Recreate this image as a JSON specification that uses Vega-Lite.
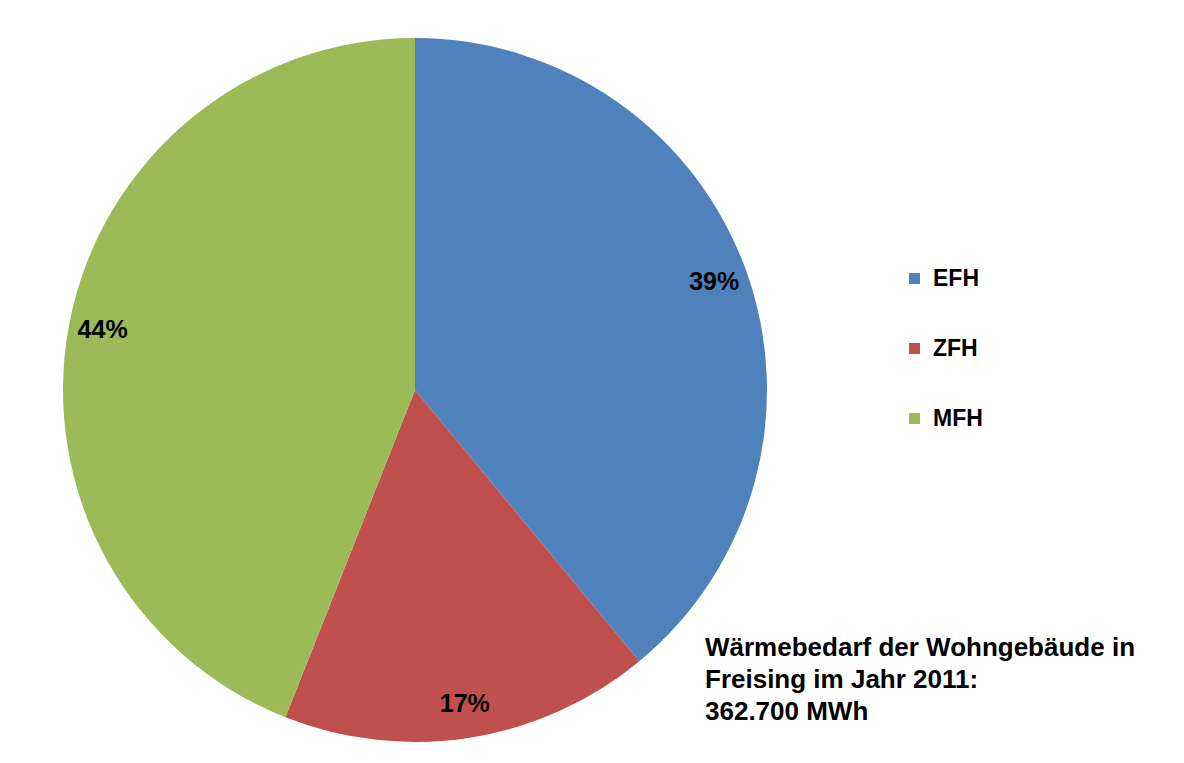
{
  "$schema": "https://vega.github.io/schema/vega-lite/v6.json",
  "autosize": "none",
  "width": 830,
  "height": 746,
  "padding": {"left": 0, "top": 17, "right": 354, "bottom": 0},
  "background": "white",
  "title": {
    "text": ["Wärmebedarf der Wohngebäude in", "Freising im Jahr 2011:", "362.700 MWh"],
    "orient": "top",
    "anchor": "start",
    "frame": "group",
    "offset": 0,
    "dx": 705,
    "dy": 708,
    "baseline": "top",
    "lineHeight": 32,
    "font": "Liberation Sans",
    "fontSize": 26,
    "fontWeight": "bold",
    "color": "#000000"
  },
  "data": {
    "values": [
      {"typ": "EFH", "anteil": 39, "label": "39%", "idx": 1},
      {"typ": "ZFH", "anteil": 17, "label": "17%", "idx": 2},
      {"typ": "MFH", "anteil": 44, "label": "44%", "idx": 3}
    ]
  },
  "encoding": {
    "theta": {"field": "anteil", "type": "quantitative", "stack": true},
    "order": {"field": "idx", "type": "quantitative"},
    "color": {
      "field": "typ",
      "type": "nominal",
      "scale": {"domain": ["EFH", "ZFH", "MFH"], "range": ["#4F81BD", "#C0504D", "#9BBB59"]},
      "legend": {
        "title": null,
        "orient": "none",
        "legendX": 903,
        "legendY": 250,
        "direction": "vertical",
        "symbolType": "square",
        "symbolSize": 121,
        "symbolStrokeWidth": 0,
        "labelFont": "Liberation Sans",
        "labelFontSize": 23,
        "labelFontWeight": "bold",
        "labelColor": "#000000",
        "labelOffset": 7,
        "rowPadding": 46,
        "padding": 0
      }
    }
  },
  "layer": [
    {"mark": {"type": "arc", "outerRadius": 352}},
    {
      "mark": {"type": "text", "radius": 318, "font": "Liberation Sans", "fontSize": 25, "fontWeight": "bold", "fill": "#000000"},
      "encoding": {"text": {"field": "label", "type": "nominal"}, "color": {"value": "#000000"}}
    }
  ],
  "config": {"view": {"stroke": null}}
}
